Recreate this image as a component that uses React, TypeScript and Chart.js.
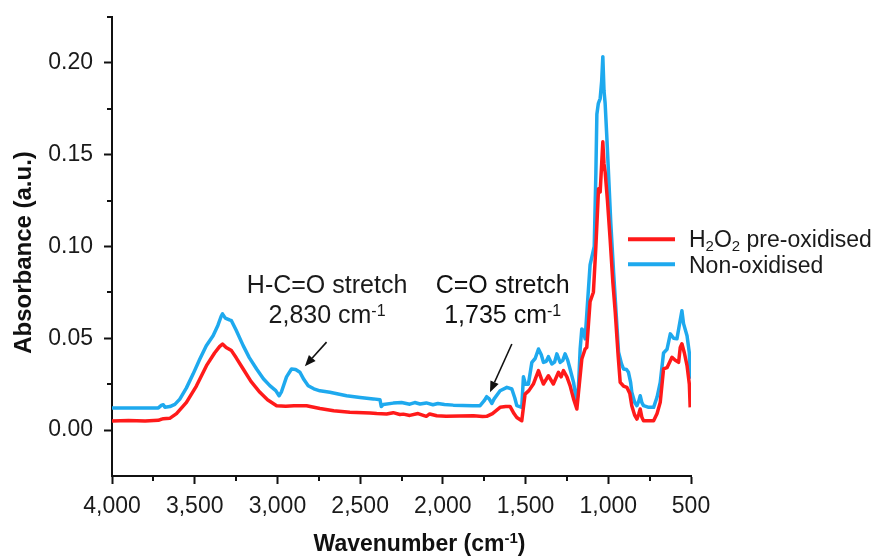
import React, { useEffect, useRef } from 'react';
import { Chart, registerables } from 'chart.js';

Chart.register(...registerables);

const FONT = '"Liberation Sans", Arial, Helvetica, sans-serif';

// ---- Data ----
const seriesLabels = ['H2O2 pre-oxidised', 'Non-oxidised'];
const seriesColors = ['#ff1a1a', '#1ea9ee'];

const oxidisedWavenumber = [
  4000, 3900, 3800, 3720, 3700, 3690, 3651, 3610, 3550, 3490, 3429, 3380, 3350, 3332, 3310, 3278, 3250, 3207,
  3160, 3106, 3060, 3005, 2950, 2900, 2824, 2743, 2660, 2562, 2440, 2400, 2340, 2300, 2260, 2239, 2200, 2150,
  2100, 2080, 2037, 1980, 1900, 1815, 1760, 1735, 1700, 1654, 1620, 1594, 1570, 1553, 1523, 1503, 1480, 1453,
  1422, 1405, 1392, 1362, 1332, 1301, 1285, 1271, 1250, 1231, 1210, 1190, 1175, 1160, 1140, 1130, 1110, 1090,
  1075, 1059, 1049, 1040, 1033, 1026, 1019, 1005, 989, 972, 958, 940, 928, 908, 888, 870, 858, 840, 827, 815,
  807, 797, 787, 726, 705, 686, 666, 645, 615, 595, 575, 565, 555, 540, 524, 510, 505,
];
const oxidisedAbsorbance = [
  0.005, 0.0052, 0.005, 0.0053, 0.006, 0.0062, 0.0064, 0.009, 0.0151, 0.024, 0.0351, 0.042, 0.0455, 0.0469,
  0.045, 0.0433, 0.0395, 0.0333, 0.0265, 0.0206, 0.0165, 0.0133, 0.013, 0.0132, 0.0133, 0.0118, 0.0105, 0.0097,
  0.0093, 0.009, 0.0088, 0.0095, 0.0085, 0.0087, 0.008, 0.009, 0.0075, 0.0088, 0.0078, 0.0075, 0.0077, 0.0078,
  0.0074, 0.0075, 0.009, 0.0124, 0.0128, 0.0129, 0.009, 0.0069, 0.0051, 0.0196, 0.0215, 0.0251, 0.0324, 0.028,
  0.0251, 0.0296, 0.0251, 0.0315, 0.029, 0.0324, 0.029, 0.0242, 0.017, 0.0115, 0.025, 0.0387, 0.0442, 0.045,
  0.07, 0.0751, 0.1, 0.1315, 0.1297, 0.145, 0.157, 0.145, 0.1406, 0.125, 0.1042, 0.08, 0.0642, 0.04, 0.026,
  0.024, 0.0233, 0.02, 0.0133, 0.008, 0.006, 0.009, 0.0115, 0.007, 0.0051, 0.0051, 0.009, 0.0151, 0.0333,
  0.034, 0.0397, 0.038, 0.0369, 0.045, 0.047, 0.042, 0.0351, 0.025, 0.0124,
];

const nonOxidisedWavenumber = [
  4000, 3900, 3800, 3720, 3700, 3690, 3680, 3650, 3620, 3590, 3550, 3510, 3469, 3430, 3389, 3360, 3340, 3332,
  3315, 3290, 3278, 3250, 3207, 3170, 3126, 3085, 3046, 3010, 2990, 2975, 2945, 2915, 2890, 2864, 2840, 2814,
  2780, 2743, 2683, 2582, 2500, 2420, 2380, 2372, 2360, 2300, 2250, 2200, 2170, 2138, 2100, 2060, 2030, 1990,
  1937, 1880, 1820, 1775, 1750, 1735, 1720, 1704, 1690, 1654, 1613, 1583, 1565, 1553, 1523, 1513, 1500, 1483,
  1462, 1442, 1422, 1405, 1392, 1375, 1362, 1341, 1325, 1311, 1291, 1275, 1261, 1245, 1231, 1210, 1195, 1190,
  1180, 1170, 1160, 1150, 1140, 1125, 1110, 1095, 1085, 1075, 1069, 1060, 1049, 1040, 1033, 1026, 1019, 1009,
  999, 985, 968, 950, 938, 920, 908, 890, 878, 865, 858, 840, 827, 815, 807, 797, 787, 760, 726, 705, 686, 666,
  645, 625, 605, 585, 565, 555, 545, 524, 510, 505,
];
const nonOxidisedAbsorbance = [
  0.012, 0.0121, 0.012, 0.0121, 0.0136, 0.0138, 0.0125, 0.0128, 0.014, 0.0169, 0.023, 0.0305, 0.0387, 0.046,
  0.0514, 0.057, 0.062, 0.0633, 0.061, 0.06, 0.0596, 0.0545, 0.046, 0.0395, 0.0333, 0.028, 0.0242, 0.0215,
  0.0187, 0.021, 0.029, 0.0333, 0.033, 0.0315, 0.0275, 0.0242, 0.0225, 0.0214, 0.0206, 0.0187, 0.0178, 0.017,
  0.0165, 0.0128, 0.014, 0.0147, 0.015, 0.0141, 0.015, 0.0142, 0.0148, 0.0138, 0.0145, 0.014, 0.0136, 0.0134,
  0.0132, 0.0133, 0.016, 0.0182, 0.017, 0.0145, 0.017, 0.0214, 0.0233, 0.0224, 0.0175, 0.0133, 0.0124, 0.029,
  0.025, 0.025, 0.0369, 0.039, 0.0442, 0.041, 0.0369, 0.0375, 0.04, 0.036, 0.037, 0.0415, 0.0369, 0.038,
  0.0415, 0.038, 0.0333, 0.026, 0.0175, 0.0151, 0.024, 0.0442, 0.0551, 0.054, 0.0497, 0.07, 0.09, 0.096, 0.1,
  0.14, 0.172, 0.178, 0.1806, 0.19, 0.2034, 0.185, 0.1779, 0.16, 0.1406, 0.113, 0.086, 0.06, 0.0424, 0.036,
  0.0333, 0.033, 0.0315, 0.026, 0.0206, 0.015, 0.0133, 0.016, 0.0187, 0.015, 0.0133, 0.0125, 0.0124, 0.018,
  0.026, 0.042, 0.044, 0.0524, 0.05, 0.0497, 0.06, 0.065, 0.058, 0.0514, 0.042, 0.028,
];

const xMajorTicks = [4000, 3500, 3000, 2500, 2000, 1500, 1000, 500];
const xMinorTicks = [3750, 3250, 2750, 2250, 1750, 1250, 750];
const yMajorTicks = [0, 0.05, 0.1, 0.15, 0.2];
const yMinorTicks = [0.025, 0.075, 0.125, 0.175, 0.225];

const xAxisTitle = 'Wavenumber (cm';
const yAxisTitle = 'Absorbance (a.u.)';

// Annotations: label text, wavenumber text, text anchor (data coords), arrow tail/head (data coords)
const annotationTitles = ['H-C=O stretch', 'C=O stretch'];
const annotationBands = ['2,830', '1,735'];
const annotationTextX = [2700, 1638];
const annotationLine1Y = [0.0797, 0.0797];
const annotationLine2Y = [0.0633, 0.0633];
const arrowTailX = [2703, 1583];
const arrowTailY = [0.0479, 0.0469];
const arrowHeadX = [2834, 1715];
const arrowHeadY = [0.0348, 0.0206];

type Part = { t: string; size: number; dy: number; bold?: boolean };

function drawParts(ctx: CanvasRenderingContext2D, parts: Part[], x: number, baseline: number, align: 'left' | 'center') {
  let total = 0;
  const widths = parts.map((p) => {
    ctx.font = `${p.bold ? 'bold ' : ''}${p.size}px ${FONT}`;
    const w = ctx.measureText(p.t).width;
    total += w;
    return w;
  });
  let cx = align === 'center' ? x - total / 2 : x;
  ctx.textAlign = 'left';
  ctx.textBaseline = 'alphabetic';
  parts.forEach((p, i) => {
    ctx.font = `${p.bold ? 'bold ' : ''}${p.size}px ${FONT}`;
    ctx.fillText(p.t, cx, baseline + p.dy);
    cx += widths[i];
  });
}

function drawArrow(ctx: CanvasRenderingContext2D, x1: number, y1: number, x2: number, y2: number) {
  const ang = Math.atan2(y2 - y1, x2 - x1);
  const headLen = 11;
  const headW = 4.5;
  const bx = x2 - headLen * Math.cos(ang);
  const by = y2 - headLen * Math.sin(ang);
  ctx.strokeStyle = '#111';
  ctx.fillStyle = '#111';
  ctx.lineWidth = 1.6;
  ctx.beginPath();
  ctx.moveTo(x1, y1);
  ctx.lineTo(bx, by);
  ctx.stroke();
  ctx.beginPath();
  ctx.moveTo(x2, y2);
  ctx.lineTo(bx + headW * Math.sin(ang), by - headW * Math.cos(ang));
  ctx.lineTo(bx - headW * Math.sin(ang), by + headW * Math.cos(ang));
  ctx.closePath();
  ctx.fill();
}

const decorPlugin = {
  id: 'decor',
  afterDraw(chart: any) {
    const ctx: CanvasRenderingContext2D = chart.ctx;
    const xs = chart.scales.x;
    const ys = chart.scales.y;
    const { left, bottom, right, top } = chart.chartArea;
    ctx.save();
    // minor ticks
    ctx.strokeStyle = '#111';
    ctx.lineWidth = 2;
    xMinorTicks.forEach((v) => {
      const px = Math.round(xs.getPixelForValue(v));
      ctx.beginPath();
      ctx.moveTo(px, bottom);
      ctx.lineTo(px, bottom + 5);
      ctx.stroke();
    });
    yMinorTicks.forEach((v) => {
      const py = Math.round(ys.getPixelForValue(v));
      ctx.beginPath();
      ctx.moveTo(left, py);
      ctx.lineTo(left - 5, py);
      ctx.stroke();
    });

    // annotations
    ctx.fillStyle = '#1a1a1a';
    annotationTitles.forEach((title, i) => {
      const tx = xs.getPixelForValue(annotationTextX[i]);
      const y1 = ys.getPixelForValue(annotationLine1Y[i]);
      const y2 = ys.getPixelForValue(annotationLine2Y[i]);
      drawParts(ctx, [{ t: title, size: 25, dy: 0 }], tx, y1 + 9, 'center');
      drawParts(
        ctx,
        [
          { t: annotationBands[i] + ' cm', size: 25, dy: 0 },
          { t: '-1', size: 16, dy: -7 },
        ],
        tx,
        y2 + 9,
        'center'
      );
      drawArrow(
        ctx,
        xs.getPixelForValue(arrowTailX[i]),
        ys.getPixelForValue(arrowTailY[i]),
        xs.getPixelForValue(arrowHeadX[i]),
        ys.getPixelForValue(arrowHeadY[i])
      );
    });

    // legend
    const lx = right + 8;
    const rowY = [ys.getPixelForValue(0.104), ys.getPixelForValue(0.0903)];
    seriesColors.forEach((c, i) => {
      ctx.strokeStyle = c;
      ctx.lineWidth = 4;
      ctx.beginPath();
      ctx.moveTo(lx - 71, rowY[i]);
      ctx.lineTo(lx - 24, rowY[i]);
      ctx.stroke();
    });
    ctx.fillStyle = '#1a1a1a';
    drawParts(
      ctx,
      [
        { t: 'H', size: 23, dy: 0 },
        { t: '2', size: 15, dy: 4 },
        { t: 'O', size: 23, dy: 0 },
        { t: '2', size: 15, dy: 4 },
        { t: ' pre-oxidised', size: 23, dy: 0 },
      ],
      lx - 10,
      rowY[0] + 8.2,
      'left'
    );
    drawParts(ctx, [{ t: seriesLabels[1], size: 23, dy: 0 }], lx - 10, rowY[1] + 8.2, 'left');

    // x-axis title with superscript
    ctx.fillStyle = '#111';
    const cxTitle = (left + right) / 2 + 18;
    drawParts(
      ctx,
      [
        { t: xAxisTitle, size: 23, dy: 0, bold: true },
        { t: '-1', size: 15, dy: -8, bold: true },
        { t: ')', size: 23, dy: 0, bold: true },
      ],
      cxTitle,
      551,
      'center'
    );

    // y-axis title
    ctx.save();
    ctx.translate(31, (top + bottom) / 2 + 6);
    ctx.rotate(-Math.PI / 2);
    drawParts(ctx, [{ t: yAxisTitle, size: 24, dy: 0, bold: true }], 0, 0, 'center');
    ctx.restore();
    ctx.restore();
  },
};

export default function App() {
  const ref = useRef<HTMLCanvasElement | null>(null);
  useEffect(() => {
    if (!ref.current) return;
    const chart = new Chart(ref.current, {
      type: 'line',
      data: {
        datasets: [
          {
            label: seriesLabels[0],
            data: oxidisedWavenumber.map((x, i) => ({ x, y: oxidisedAbsorbance[i] })),
            borderColor: seriesColors[0],
            backgroundColor: seriesColors[0],
            borderWidth: 3.5,
            pointRadius: 0,
            tension: 0,
            borderJoinStyle: 'round',
          },
          {
            label: seriesLabels[1],
            data: nonOxidisedWavenumber.map((x, i) => ({ x, y: nonOxidisedAbsorbance[i] })),
            borderColor: seriesColors[1],
            backgroundColor: seriesColors[1],
            borderWidth: 3.5,
            pointRadius: 0,
            tension: 0,
            borderJoinStyle: 'round',
          },
        ],
      },
      options: {
        animation: false,
        responsive: false,
        devicePixelRatio: 1,
        layout: { padding: { left: 0, right: 192, top: 17, bottom: 0 } },
        plugins: { legend: { display: false }, tooltip: { enabled: false } },
        scales: {
          x: {
            type: 'linear',
            min: 500,
            max: 4000,
            reverse: true,
            afterBuildTicks: (s: any) => {
              s.ticks = xMajorTicks.map((v) => ({ value: v }));
            },
            afterFit: (s: any) => {
              s.height = 81;
              s.paddingLeft = 0;
              s.paddingRight = 0;
            },
            ticks: {
              font: { family: FONT, size: 23 },
              color: '#1a1a1a',
              padding: 9,
              maxRotation: 0,
              callback: (v: any) => Number(v).toLocaleString('en-US'),
            },
            grid: { drawOnChartArea: false, drawTicks: true, tickLength: 8, tickColor: '#111', tickWidth: 2 },
            border: { display: true, color: '#111', width: 2 },
            title: { display: false },
          },
          y: {
            type: 'linear',
            min: -0.025,
            max: 0.225,
            afterBuildTicks: (s: any) => {
              s.ticks = yMajorTicks.map((v) => ({ value: v }));
            },
            afterFit: (s: any) => {
              s.width = 112;
              s.paddingTop = 0;
              s.paddingBottom = 0;
            },
            ticks: {
              font: { family: FONT, size: 23 },
              color: '#1a1a1a',
              padding: 11,
              callback: (v: any) => Number(v).toFixed(2),
            },
            grid: { drawOnChartArea: false, drawTicks: true, tickLength: 8, tickColor: '#111', tickWidth: 2 },
            border: { display: true, color: '#111', width: 2 },
            title: { display: false },
          },
        },
      },
      plugins: [decorPlugin],
    } as any);
    return () => chart.destroy();
  }, []);
  return (
    <div style={{ position: 'fixed', left: 0, top: 0, width: 883, height: 557, background: '#fff' }}>
      <canvas ref={ref} width={883} height={557} />
    </div>
  );
}
